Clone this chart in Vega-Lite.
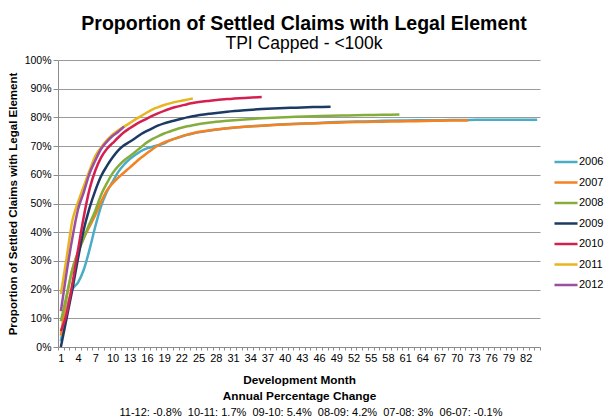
{
  "$schema": "https://vega.github.io/schema/vega-lite/v6.json",
  "background": "white",
  "autosize": {"type": "pad"},
  "padding": {"left": 7, "top": 14, "right": 2, "bottom": 2},
  "config": {"font": "Liberation Sans", "view": {"stroke": null}},
  "title": {
    "text": "11-12: -0.8%\u00a0\u00a010-11: 1.7%\u00a0\u00a009-10: 5.4%\u00a0\u00a008-09: 4.2%\u00a0\u00a007-08: 3%\u00a0\u00a006-07: -0.1%",
    "orient": "bottom",
    "anchor": "middle",
    "frame": "group",
    "font": "Liberation Sans",
    "fontSize": 11,
    "fontWeight": "normal",
    "offset": 5,
    "dx": 12,
    "color": "black"
  },
  "resolve": {"legend": {"color": "independent"}},
  "vconcat": [
    {
      "width": 482,
      "height": 287,
      "title": {
        "text": "Proportion of Settled Claims with Legal Element",
        "subtitle": "TPI Capped - <100k",
        "anchor": "middle",
        "font": "Liberation Sans",
        "subtitleFont": "Liberation Sans",
        "fontSize": 19.5,
        "fontWeight": "bold",
        "subtitleFontSize": 17.5,
        "subtitlePadding": 0,
        "offset": 2,
        "color": "black",
        "subtitleColor": "black",
        "dx": 5
      },
      "data": {
        "values": [
          {"yr":"2006","m":1,"v":0.02},{"yr":"2006","m":2,"v":0.13},{"yr":"2006","m":3,"v":0.2},{"yr":"2006","m":4,"v":0.225},{"yr":"2006","m":5,"v":0.27},{"yr":"2006","m":6,"v":0.34},{"yr":"2006","m":7,"v":0.42},{"yr":"2006","m":8,"v":0.49},{"yr":"2006","m":9,"v":0.54},{"yr":"2006","m":10,"v":0.575},{"yr":"2006","m":11,"v":0.61},{"yr":"2006","m":12,"v":0.635},{"yr":"2006","m":13,"v":0.655},{"yr":"2006","m":14,"v":0.67},{"yr":"2006","m":15,"v":0.683},{"yr":"2006","m":16,"v":0.692},{"yr":"2006","m":17,"v":0.698},{"yr":"2006","m":18,"v":0.703},{"yr":"2006","m":19,"v":0.71},{"yr":"2006","m":20,"v":0.72},{"yr":"2006","m":21,"v":0.727},{"yr":"2006","m":22,"v":0.733},{"yr":"2006","m":23,"v":0.739},{"yr":"2006","m":24,"v":0.744},{"yr":"2006","m":27,"v":0.754},{"yr":"2006","m":30,"v":0.762},{"yr":"2006","m":33,"v":0.767},{"yr":"2006","m":36,"v":0.771},{"yr":"2006","m":39,"v":0.775},{"yr":"2006","m":42,"v":0.778},{"yr":"2006","m":45,"v":0.78},{"yr":"2006","m":48,"v":0.783},{"yr":"2006","m":51,"v":0.785},{"yr":"2006","m":54,"v":0.786},{"yr":"2006","m":57,"v":0.788},{"yr":"2006","m":60,"v":0.789},{"yr":"2006","m":63,"v":0.79},{"yr":"2006","m":66,"v":0.79},{"yr":"2006","m":69,"v":0.791},{"yr":"2006","m":72,"v":0.791},{"yr":"2006","m":75,"v":0.792},{"yr":"2006","m":78,"v":0.792},{"yr":"2006","m":81,"v":0.792},{"yr":"2006","m":84,"v":0.792},
          {"yr":"2007","m":1,"v":0.04},{"yr":"2007","m":2,"v":0.17},{"yr":"2007","m":3,"v":0.27},{"yr":"2007","m":4,"v":0.33},{"yr":"2007","m":5,"v":0.38},{"yr":"2007","m":6,"v":0.42},{"yr":"2007","m":7,"v":0.46},{"yr":"2007","m":8,"v":0.505},{"yr":"2007","m":9,"v":0.545},{"yr":"2007","m":10,"v":0.57},{"yr":"2007","m":11,"v":0.59},{"yr":"2007","m":12,"v":0.608},{"yr":"2007","m":13,"v":0.625},{"yr":"2007","m":14,"v":0.643},{"yr":"2007","m":15,"v":0.66},{"yr":"2007","m":16,"v":0.675},{"yr":"2007","m":17,"v":0.69},{"yr":"2007","m":18,"v":0.703},{"yr":"2007","m":19,"v":0.713},{"yr":"2007","m":20,"v":0.72},{"yr":"2007","m":21,"v":0.727},{"yr":"2007","m":22,"v":0.734},{"yr":"2007","m":23,"v":0.74},{"yr":"2007","m":24,"v":0.745},{"yr":"2007","m":27,"v":0.755},{"yr":"2007","m":30,"v":0.762},{"yr":"2007","m":33,"v":0.767},{"yr":"2007","m":36,"v":0.771},{"yr":"2007","m":39,"v":0.774},{"yr":"2007","m":42,"v":0.777},{"yr":"2007","m":45,"v":0.779},{"yr":"2007","m":48,"v":0.781},{"yr":"2007","m":51,"v":0.783},{"yr":"2007","m":54,"v":0.784},{"yr":"2007","m":57,"v":0.785},{"yr":"2007","m":60,"v":0.786},{"yr":"2007","m":63,"v":0.787},{"yr":"2007","m":66,"v":0.788},{"yr":"2007","m":69,"v":0.789},{"yr":"2007","m":72,"v":0.789},
          {"yr":"2008","m":1,"v":0.09},{"yr":"2008","m":2,"v":0.18},{"yr":"2008","m":3,"v":0.27},{"yr":"2008","m":4,"v":0.33},{"yr":"2008","m":5,"v":0.38},{"yr":"2008","m":6,"v":0.43},{"yr":"2008","m":7,"v":0.475},{"yr":"2008","m":8,"v":0.53},{"yr":"2008","m":9,"v":0.57},{"yr":"2008","m":10,"v":0.605},{"yr":"2008","m":11,"v":0.63},{"yr":"2008","m":12,"v":0.65},{"yr":"2008","m":13,"v":0.665},{"yr":"2008","m":14,"v":0.68},{"yr":"2008","m":15,"v":0.697},{"yr":"2008","m":16,"v":0.713},{"yr":"2008","m":17,"v":0.725},{"yr":"2008","m":18,"v":0.735},{"yr":"2008","m":19,"v":0.744},{"yr":"2008","m":20,"v":0.751},{"yr":"2008","m":21,"v":0.758},{"yr":"2008","m":22,"v":0.764},{"yr":"2008","m":23,"v":0.769},{"yr":"2008","m":24,"v":0.773},{"yr":"2008","m":27,"v":0.782},{"yr":"2008","m":30,"v":0.788},{"yr":"2008","m":33,"v":0.793},{"yr":"2008","m":36,"v":0.797},{"yr":"2008","m":39,"v":0.8},{"yr":"2008","m":42,"v":0.802},{"yr":"2008","m":45,"v":0.804},{"yr":"2008","m":48,"v":0.806},{"yr":"2008","m":51,"v":0.807},{"yr":"2008","m":54,"v":0.808},{"yr":"2008","m":57,"v":0.809},{"yr":"2008","m":60,"v":0.81},
          {"yr":"2009","m":1,"v":0.0},{"yr":"2009","m":2,"v":0.1},{"yr":"2009","m":3,"v":0.2},{"yr":"2009","m":4,"v":0.31},{"yr":"2009","m":5,"v":0.41},{"yr":"2009","m":6,"v":0.485},{"yr":"2009","m":7,"v":0.545},{"yr":"2009","m":8,"v":0.595},{"yr":"2009","m":9,"v":0.63},{"yr":"2009","m":10,"v":0.66},{"yr":"2009","m":11,"v":0.685},{"yr":"2009","m":12,"v":0.703},{"yr":"2009","m":13,"v":0.715},{"yr":"2009","m":14,"v":0.728},{"yr":"2009","m":15,"v":0.742},{"yr":"2009","m":16,"v":0.753},{"yr":"2009","m":17,"v":0.763},{"yr":"2009","m":18,"v":0.772},{"yr":"2009","m":19,"v":0.779},{"yr":"2009","m":20,"v":0.785},{"yr":"2009","m":21,"v":0.79},{"yr":"2009","m":22,"v":0.795},{"yr":"2009","m":23,"v":0.8},{"yr":"2009","m":24,"v":0.804},{"yr":"2009","m":27,"v":0.813},{"yr":"2009","m":30,"v":0.82},{"yr":"2009","m":33,"v":0.825},{"yr":"2009","m":36,"v":0.829},{"yr":"2009","m":39,"v":0.832},{"yr":"2009","m":42,"v":0.834},{"yr":"2009","m":45,"v":0.836},{"yr":"2009","m":48,"v":0.837},
          {"yr":"2010","m":1,"v":0.056},{"yr":"2010","m":2,"v":0.115},{"yr":"2010","m":3,"v":0.22},{"yr":"2010","m":4,"v":0.34},{"yr":"2010","m":5,"v":0.455},{"yr":"2010","m":6,"v":0.55},{"yr":"2010","m":7,"v":0.615},{"yr":"2010","m":8,"v":0.66},{"yr":"2010","m":9,"v":0.69},{"yr":"2010","m":10,"v":0.71},{"yr":"2010","m":11,"v":0.73},{"yr":"2010","m":12,"v":0.748},{"yr":"2010","m":13,"v":0.762},{"yr":"2010","m":14,"v":0.775},{"yr":"2010","m":15,"v":0.786},{"yr":"2010","m":16,"v":0.796},{"yr":"2010","m":17,"v":0.806},{"yr":"2010","m":18,"v":0.815},{"yr":"2010","m":19,"v":0.823},{"yr":"2010","m":20,"v":0.83},{"yr":"2010","m":21,"v":0.836},{"yr":"2010","m":22,"v":0.841},{"yr":"2010","m":23,"v":0.846},{"yr":"2010","m":24,"v":0.85},{"yr":"2010","m":27,"v":0.858},{"yr":"2010","m":30,"v":0.864},{"yr":"2010","m":33,"v":0.868},{"yr":"2010","m":36,"v":0.871},
          {"yr":"2011","m":1,"v":0.185},{"yr":"2011","m":2,"v":0.31},{"yr":"2011","m":3,"v":0.44},{"yr":"2011","m":4,"v":0.505},{"yr":"2011","m":5,"v":0.56},{"yr":"2011","m":6,"v":0.615},{"yr":"2011","m":7,"v":0.665},{"yr":"2011","m":8,"v":0.695},{"yr":"2011","m":9,"v":0.72},{"yr":"2011","m":10,"v":0.74},{"yr":"2011","m":11,"v":0.755},{"yr":"2011","m":12,"v":0.768},{"yr":"2011","m":13,"v":0.78},{"yr":"2011","m":14,"v":0.793},{"yr":"2011","m":15,"v":0.805},{"yr":"2011","m":16,"v":0.817},{"yr":"2011","m":17,"v":0.828},{"yr":"2011","m":18,"v":0.836},{"yr":"2011","m":19,"v":0.843},{"yr":"2011","m":20,"v":0.849},{"yr":"2011","m":21,"v":0.854},{"yr":"2011","m":22,"v":0.858},{"yr":"2011","m":23,"v":0.862},{"yr":"2011","m":24,"v":0.866},
          {"yr":"2012","m":1,"v":0.125},{"yr":"2012","m":2,"v":0.26},{"yr":"2012","m":3,"v":0.38},{"yr":"2012","m":4,"v":0.48},{"yr":"2012","m":5,"v":0.54},{"yr":"2012","m":6,"v":0.605},{"yr":"2012","m":7,"v":0.65},{"yr":"2012","m":8,"v":0.69},{"yr":"2012","m":9,"v":0.715},{"yr":"2012","m":10,"v":0.735},{"yr":"2012","m":11,"v":0.75},{"yr":"2012","m":12,"v":0.768}
        ]
      },
      "mark": {"type": "line", "strokeWidth": 2.5, "interpolate": "monotone"},
      "encoding": {
        "x": {
          "field": "m",
          "type": "quantitative",
          "scale": {"domain": [0.5, 84.5], "nice": false, "zero": false},
          "axis": {
            "title": ["Development Month", "Annual Percentage Change"],
            "titleLineHeight": 16,
            "values": [0.5,1.5,2.5,3.5,4.5,5.5,6.5,7.5,8.5,9.5,10.5,11.5,12.5,13.5,14.5,15.5,16.5,17.5,18.5,19.5,20.5,21.5,22.5,23.5,24.5,25.5,26.5,27.5,28.5,29.5,30.5,31.5,32.5,33.5,34.5,35.5,36.5,37.5,38.5,39.5,40.5,41.5,42.5,43.5,44.5,45.5,46.5,47.5,48.5,49.5,50.5,51.5,52.5,53.5,54.5,55.5,56.5,57.5,58.5,59.5,60.5,61.5,62.5,63.5,64.5,65.5,66.5,67.5,68.5,69.5,70.5,71.5,72.5,73.5,74.5,75.5,76.5,77.5,78.5,79.5,80.5,81.5,82.5,83.5,84.5],
            "labelExpr": "datum.value < 84 && (datum.value - 0.5) % 3 == 0 ? '' + (datum.value + 0.5) : ''",
            "labelOffset": 2.87,
            "labelFlush": false,
            "labelOverlap": false,
            "labelFontSize": 11,
            "labelColor": "black",
            "labelPadding": 2,
            "grid": false,
            "tickSize": 3,
            "tickColor": "#8c8c8c",
            "domainColor": "#8c8c8c",
            "titleFontSize": 11.8,
            "titleFontWeight": "bold",
            "titleColor": "black",
            "titlePadding": 11
          }
        },
        "y": {
          "field": "v",
          "type": "quantitative",
          "scale": {"domain": [0, 1], "nice": false},
          "axis": {
            "title": "Proportion of Settled Claims with Legal Element",
            "titleLimit": 400,
            "values": [0, 0.1, 0.2, 0.3, 0.4, 0.5, 0.6, 0.7, 0.8, 0.9, 1],
            "format": ".0%",
            "grid": true,
            "gridColor": "#9a9a9a",
            "domainColor": "#8c8c8c",
            "tickColor": "#8c8c8c",
            "tickSize": 5,
            "labelPadding": 2,
            "labelFontSize": 10.5,
            "labelColor": "black",
            "titleFontSize": 11.5,
            "titleFontWeight": "bold",
            "titleColor": "black",
            "titlePadding": 6
          }
        },
        "color": {
          "field": "yr",
          "type": "nominal",
          "scale": {
            "domain": ["2006", "2007", "2008", "2009", "2010", "2011", "2012"],
            "range": ["#4bacc6", "#f58220", "#84ad3b", "#1c3a63", "#d42050", "#e8b420", "#9b4f9f"]
          },
          "legend": {
            "title": null,
            "orient": "none",
            "legendX": 499,
            "legendY": 93,
            "symbolType": "M-1.5,0H1.5",
            "symbolSize": 236,
            "symbolStrokeWidth": 2.5,
            "labelFontSize": 11,
            "labelColor": "black",
            "labelOffset": 4,
            "rowPadding": 6.5
          }
        }
      }
    }
  ]
}
